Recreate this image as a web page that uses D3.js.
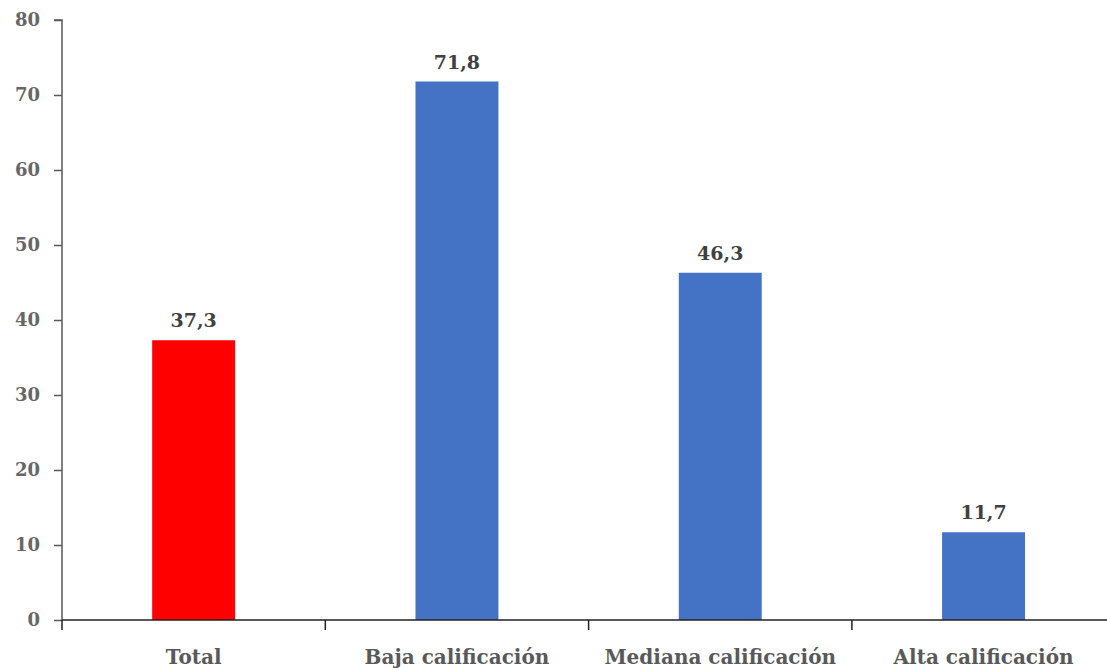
<!DOCTYPE html>
<html>
<head>
<meta charset="utf-8">
<script src="https://cdn.jsdelivr.net/npm/d3@7"></script>
<style>
  body { margin: 0; background: #fff; }
  svg text { font-family: "DejaVu Serif", serif; font-weight: bold; }
</style>
</head>
<body>
<svg id="chart" width="1107" height="668"></svg>
<script>
// data
const categories = ["Total", "Baja calificación", "Mediana calificación", "Alta calificación"];
const values = [37.3, 71.8, 46.3, 11.7];
const barColors = ["#ff0000", "#4472c4", "#4472c4", "#4472c4"];
const yTicks = [0, 10, 20, 30, 40, 50, 60, 70, 80];

const svg = d3.select("#chart");
const plotLeft = 62, plotTop = 20, plotBottom = 620;
const bandW = 263.3;

const x = d3.scaleBand()
  .domain(categories)
  .range([plotLeft, plotLeft + bandW * categories.length])
  .paddingInner(0.685)
  .paddingOuter(0.3425);

const y = d3.scaleLinear().domain([0, 80]).range([plotBottom, plotTop]);

// y axis
const yAxis = svg.append("g")
  .attr("transform", `translate(${plotLeft},0)`)
  .call(d3.axisLeft(y).tickValues(yTicks).tickSize(8).tickPadding(14).tickFormat(d3.format("d")));
yAxis.select(".domain").attr("stroke", "#595959").attr("stroke-width", 1.5).attr("d", `M-8,${plotTop}H0V${plotBottom}`);
yAxis.selectAll(".tick line").attr("stroke", "#595959").attr("stroke-width", 1.5);
yAxis.selectAll(".tick text").attr("fill", "#666").style("font-size", "18px");

// bars
svg.selectAll("rect.bar")
  .data(values)
  .join("rect")
  .attr("class", "bar")
  .attr("x", (d, i) => x(categories[i]))
  .attr("width", x.bandwidth())
  .attr("y", d => y(d))
  .attr("height", d => y(0) - y(d))
  .attr("fill", (d, i) => barColors[i]);

// x axis
const xAxis = svg.append("g")
  .attr("transform", `translate(0,${plotBottom})`)
  .call(d3.axisBottom(x).tickSize(0).tickPadding(30));
xAxis.select(".domain").attr("stroke", "#222").attr("stroke-width", 1.5)
  .attr("d", `M${plotLeft},0H${plotLeft + bandW * categories.length}`);
xAxis.selectAll(".tick text").attr("fill", "#595959").style("font-size", "20px");

// category separators
const seps = d3.range(categories.length).map(i => plotLeft + i * bandW);
xAxis.selectAll("line.sep")
  .data(seps)
  .join("line")
  .attr("class", "sep")
  .attr("x1", d => d).attr("x2", d => d)
  .attr("y1", 0).attr("y2", 10)
  .attr("stroke", "#222").attr("stroke-width", 1.5);

// value labels
svg.selectAll("text.val")
  .data(values)
  .join("text")
  .attr("class", "val")
  .attr("x", (d, i) => x(categories[i]) + x.bandwidth() / 2)
  .attr("y", d => y(d) - 13)
  .attr("text-anchor", "middle")
  .attr("fill", "#404040")
  .style("font-size", "19px")
  .text(d => d3.format(".1f")(d).replace(".", ","));
</script>
</body>
</html>
